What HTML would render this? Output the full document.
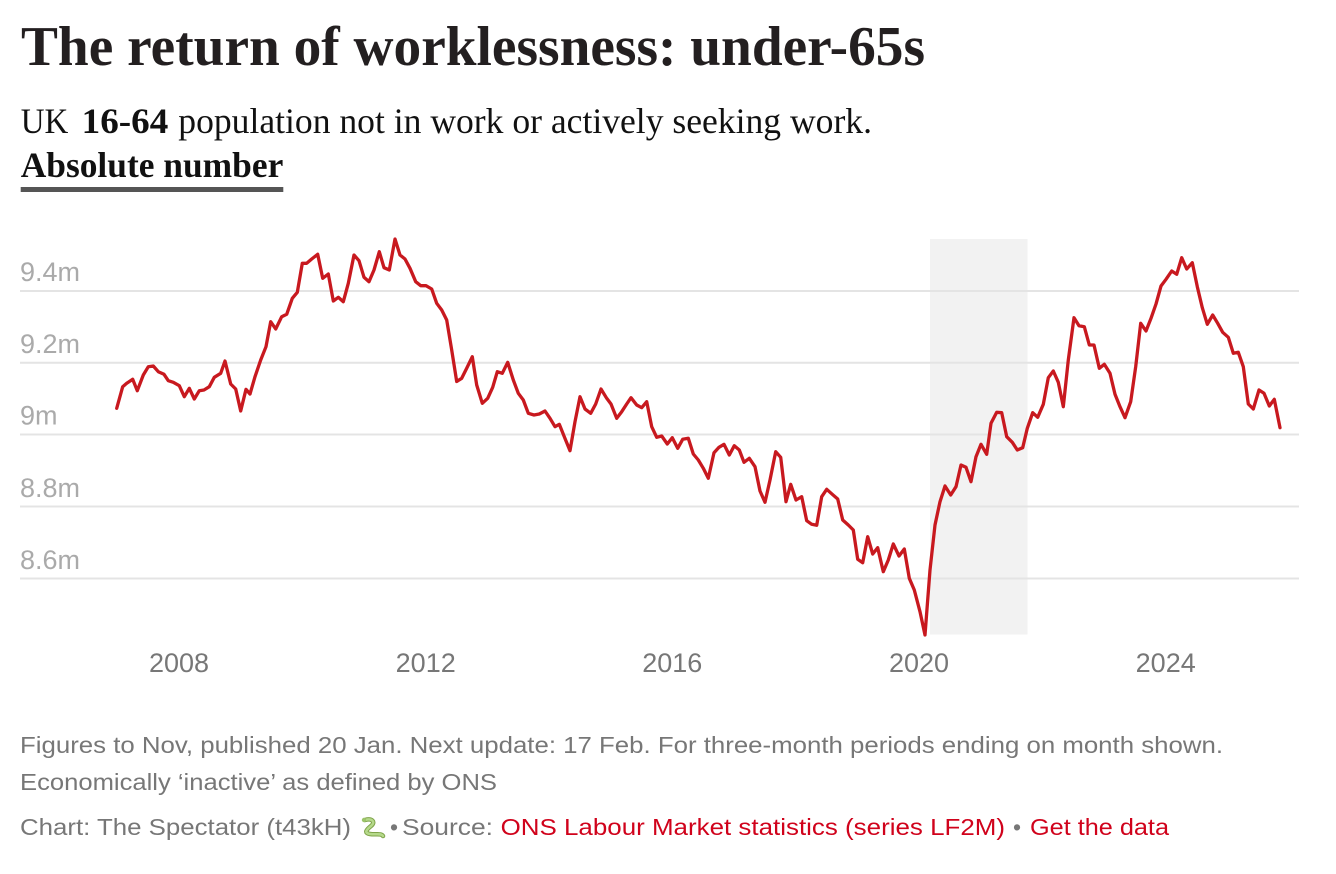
<!DOCTYPE html>
<html>
<head>
<meta charset="utf-8">
<style>
  html, body { margin: 0; padding: 0; background: #ffffff; }
  svg { display: block; }
</style>
</head>
<body>
<svg width="1336" height="874" viewBox="0 0 1336 874" xmlns="http://www.w3.org/2000/svg">
  <rect x="0" y="0" width="1336" height="874" fill="#ffffff"/>

  <!-- Title -->
  <text x="21" y="65" font-family="'Liberation Serif', serif" font-weight="bold" font-size="56" fill="#231f20" textLength="904" lengthAdjust="spacingAndGlyphs">The return of worklessness: under-65s</text>

  <!-- Subtitle -->
  <text x="20.7" y="133" font-family="'Liberation Serif', serif" font-size="35.5" fill="#111" textLength="47.6" lengthAdjust="spacingAndGlyphs">UK</text>
  <text x="81.7" y="133" font-family="'Liberation Serif', serif" font-weight="bold" font-size="35.5" fill="#111" textLength="86.6" lengthAdjust="spacingAndGlyphs">16-64</text>
  <text x="178.3" y="133" font-family="'Liberation Serif', serif" font-size="35.5" fill="#111" textLength="693.7" lengthAdjust="spacingAndGlyphs">population not in work or actively seeking work.</text>

  <text x="20.7" y="177" font-family="'Liberation Serif', serif" font-weight="bold" font-size="35.5" fill="#111" textLength="262.6" lengthAdjust="spacingAndGlyphs">Absolute number</text>
  <rect x="20.7" y="187" width="262.6" height="5" fill="#555555"/>

  <!-- Shaded band -->
  <rect x="930" y="239" width="97.5" height="395.5" fill="#f2f2f2"/>

  <!-- Gridlines -->
  <g stroke="#e4e4e4" stroke-width="2">
    <line x1="20" y1="291" x2="1299" y2="291"/>
    <line x1="20" y1="362.8" x2="1299" y2="362.8"/>
    <line x1="20" y1="434.5" x2="1299" y2="434.5"/>
    <line x1="20" y1="506.5" x2="1299" y2="506.5"/>
    <line x1="20" y1="578.5" x2="1299" y2="578.5"/>
  </g>

  <!-- Y labels -->
  <g font-family="'Liberation Sans', sans-serif" font-size="27" fill="#aaaaaa">
    <text x="20" y="281">9.4m</text>
    <text x="20" y="353">9.2m</text>
    <text x="20" y="424.5">9m</text>
    <text x="20" y="497">8.8m</text>
    <text x="20" y="569">8.6m</text>
  </g>

  <!-- X labels -->
  <g font-family="'Liberation Sans', sans-serif" font-size="27" fill="#777777" text-anchor="middle">
    <text x="179" y="672">2008</text>
    <text x="425.7" y="672">2012</text>
    <text x="672.3" y="672">2016</text>
    <text x="919" y="672">2020</text>
    <text x="1165.7" y="672">2024</text>
  </g>

  <!-- Data line -->
  <polyline fill="none" stroke="#c8191f" stroke-width="3.3" stroke-linejoin="round" stroke-linecap="round" points="
116.7,408.3 122.7,386.7 126.7,383.3 132.7,379.3 137.3,390.7 143.3,375 148.3,366.7 153.3,366 158.3,371.7 164,374.3
168.3,380.7 173.3,382.3 179.3,385.7 184.3,396.7 189.3,388.3 194.3,399 199.3,390.7 204,390 209.3,386.7 214.3,377.3
220.7,373.3 225,361 230.7,384 235.7,389 240.7,411 246,389.3 250,394 255,376.7 260.7,360 266,346.7
270.7,321.7 275.7,329 281.7,316.7 286.7,314.3 292.3,298.3 297.3,292.3 302.3,263.3 306.7,263.3 311.7,259 317.7,254.3
322.7,278.3 328.3,274 333.3,301 338.3,297.3 343.3,301.7 348.3,283.3 354,255 359,260.7 364,277.3 369,281.7
374,270 379.3,251.7 384,267.7 389.3,270 395,239 400,255 405,259 410,268.3 415.7,281.7 420.7,285.7
426,285.7 431.7,289 436.7,303.3 441.7,310 446.7,320 451.7,350 456.7,381.5 461.7,378.3 466.7,368.3 472.3,356.7
476.7,385 482.3,403.3 487.7,398.3 492.7,387.3 497.3,371.7 502.3,373.3 507.7,362.3 513.3,380 518.3,393.3 523.3,400
528.3,413.3 534,415 539.3,414 545,411 550,418.3 555,426.7 559.3,424.3 564.3,436.7 570,450.7 575,421.7
580,396.7 585,409 590.7,413.3 595.7,404 601,389 606.7,398.3 611,404 616.7,418.3 621.7,411.7 626.7,404
631,397.7 636.7,405 641.7,407.7 646.7,401.7 651.7,426.7 656.7,437.3 661.7,436 667.3,444 672.3,437.7 677.7,448.3
682.7,439.3 688.3,438.3 693.3,454 698.3,460 703.3,468.3 708.3,478.3 714,452.7 719,447.3 724,444.3 729.3,455
734.3,445.7 739.3,450 744,462.3 749.3,458.3 755,466.7 760,491 765,502.3 770,480 775.7,451.7 780.7,457.3
786,501.7 790.7,484.3 796,500 801.7,496.7 806.7,520.7 811.7,524.3 816.7,525.3 821.7,496.7 826.7,489.3 832.3,494.3
837.7,499 842.7,520 848.3,525 853.3,530 857.7,559.3 862.7,562.7 867.7,536.7 872.7,554 877.7,547.7 883.3,571.7
888.3,560 893.3,544 899,556 904.3,549 909.3,578.3 914.3,590 920,611.7 925,635 930,570 935,525
940,501.7 945,486 950.7,495 956,486.7 961,465 966,467.3 971,481.7 976,456.7 981,444.3 986.7,454.3
991,423.3 996.7,412.3 1001.7,412.7 1006.7,436.7 1012.3,442.3 1017.3,450 1022.7,447.7 1027.3,428.3 1032.7,412.7 1037.7,417.3
1043.3,404.3 1048.3,377.7 1053.3,371 1058.3,382.3 1063.3,406.7 1068.3,360 1074,317.7 1079,325.7 1084.3,326.7 1089.3,345
1094,345 1099.3,368.3 1104.3,364.3 1110,373.3 1115,394.3 1120,406.7 1125,417.7 1130.7,401.7 1135.7,366.7 1140.7,323.3
1146,331 1151,318.3 1156,304 1161,286 1166,279.3 1171.7,271 1176.7,274.3 1181.7,257.7 1186.7,269 1192.3,262.7
1197.3,286.7 1202.3,307.7 1207.3,324.3 1212.7,315 1217.7,323.3 1222.7,332.3 1228.3,337.3 1233.3,353.3 1238.3,352.3 1243.3,366.7
1248.3,404 1253.3,409 1259,390 1264,393.3 1269.3,406 1274.3,399.3 1280,427.7"/>

  <!-- Footer -->
  <g font-family="'Liberation Sans', sans-serif" font-size="23" fill="#777777">
    <text x="20" y="753" textLength="1203" lengthAdjust="spacingAndGlyphs">Figures to Nov, published 20 Jan. Next update: 17 Feb. For three-month periods ending on month shown.</text>
    <text x="20" y="790" textLength="477" lengthAdjust="spacingAndGlyphs">Economically ‘inactive’ as defined by ONS</text>
    <text x="20" y="835" textLength="331" lengthAdjust="spacingAndGlyphs">Chart: The Spectator (t43kH)</text>
    <text x="390" y="835">•</text>
    <text x="402" y="835" textLength="91" lengthAdjust="spacingAndGlyphs">Source:</text>
    <text x="500.6" y="835" fill="#d0021b" textLength="504.4" lengthAdjust="spacingAndGlyphs">ONS Labour Market statistics (series LF2M)</text>
    <text x="1013" y="835">•</text>
    <text x="1030" y="835" fill="#d0021b" textLength="139" lengthAdjust="spacingAndGlyphs">Get the data</text>
  </g>

  <!-- Snake icon -->
  <g fill="none" stroke-linecap="round">
    <path d="M365,820 C372,818 376,822 371,826 C366,830 364,833 370,834 C376,835 381,833 383,836" stroke="#7fa34a" stroke-width="4.5"/>
    <path d="M365,820 C372,818 376,822 371,826 C366,830 364,833 370,834 C376,835 381,833 383,836" stroke="#b5d98a" stroke-width="2.5"/>
    <circle cx="364" cy="820" r="2.2" fill="#9cc46a" stroke="none"/>
  </g>
</svg>
</body>
</html>
